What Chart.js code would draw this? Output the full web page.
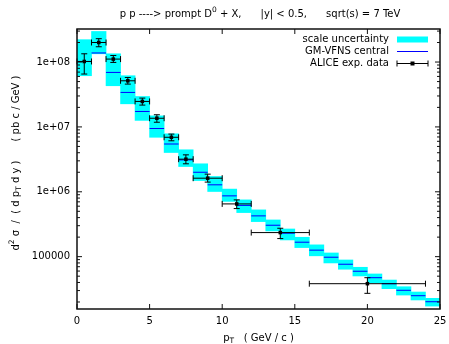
<!DOCTYPE html>
<html>
<head>
<meta charset="utf-8">
<script src="https://cdn.jsdelivr.net/npm/chart.js@4.4.0/dist/chart.umd.min.js"></script>
<style>
  html, body { margin: 0; padding: 0; background: #fff; }
  #wrap { width: 449px; height: 344px; }
</style>
</head>
<body>
<div id="wrap"><canvas id="myChart" width="449" height="344"></canvas></div>
<script>
// pT bins (GeV/c), theory band per bin
let binEdges = [0, 1, 2, 3, 4, 5, 6, 7, 8, 9, 10, 11, 12, 13, 14, 15, 16, 17, 18, 19, 20, 21, 22, 23, 24, 25];
let bandHigh = [2.21e8, 2.96e8, 1.34e8, 6.15e7, 2.94e7, 1.48e7, 7.83e6, 4.44e6, 2.70e6, 1.72e6, 1.10e6, 7.50e5, 5.26e5,
                3.68e5, 2.67e5, 1.99e5, 1.52e5, 1.14e5, 8.89e4, 6.86e4, 5.41e4, 4.36e4, 3.44e4, 2.85e4, 2.28e4];
let bandLow = [6.15e7, 1.34e8, 4.31e7, 2.27e7, 1.26e7, 6.92e6, 4.03e6, 2.45e6, 1.49e6, 1.01e6, 7.11e5, 4.78e5, 3.47e5,
               2.49e5, 1.81e5, 1.38e5, 1.03e5, 8.0e4, 6.40e4, 5.04e4, 3.97e4, 3.21e4, 2.56e4, 2.15e4, 1.73e4];
let central = [1.02e8, 1.38e8, 6.92e7, 3.40e7, 1.73e7, 9.44e6, 5.45e6, 3.10e6, 2.00e6, 1.28e6, 8.65e5, 6.17e5, 4.25e5,
               3.05e5, 2.30e5, 1.67e5, 1.26e5, 9.8e4, 7.64e4, 5.96e4, 4.74e4, 3.83e4, 3.03e4, 2.50e4, 2.02e4];

// ALICE data
let alicePt = [0.5, 1.5, 2.5, 3.5, 4.5, 5.5, 6.5, 7.5, 9, 11, 14, 20];
let alicePtLo = [0, 1, 2, 3, 4, 5, 6, 7, 8, 10, 12, 16];
let alicePtHi = [1, 2, 3, 4, 5, 6, 7, 8, 10, 12, 16, 24];
let aliceVal = [1.02e8, 2.0e8, 1.11e8, 5.14e7, 2.47e7, 1.36e7, 6.92e6, 3.18e6, 1.62e6, 6.5e5, 2.35e5, 3.83e4];
let aliceLo = [6.53e7, 1.72e8, 9.86e7, 4.57e7, 2.17e7, 1.18e7, 6.11e6, 2.70e6, 1.41e6, 5.51e5, 1.90e5, 2.72e4];
let aliceHi = [1.34e8, 2.29e8, 1.26e8, 5.78e7, 2.78e7, 1.54e7, 7.75e6, 3.71e6, 1.87e6, 7.50e5, 2.74e5, 4.74e4];

let xTicks = [0, 5, 10, 15, 20, 25];
let yTicks = [1e5, 1e6, 1e7, 1e8];

let FONT = '"DejaVu Sans", sans-serif';

let bandData = bandLow.map((lo, i) => ({ x: (binEdges[i] + binEdges[i + 1]) / 2, y: [lo, bandHigh[i]] }));
let centralData = [];
central.forEach((c, i) => {
    centralData.push({ x: binEdges[i], y: c }, { x: binEdges[i + 1], y: c }, { x: binEdges[i + 1], y: null });
});
let aliceData = alicePt.map((p, i) => ({ x: p, y: aliceVal[i] }));

// draw text pieces with sup/sub
function richText(ctx, parts, x, y, size) {
    let widths = parts.map(p => {
        ctx.font = ((p.sup || p.sub) ? size * 0.75 : size) + 'px ' + FONT;
        return ctx.measureText(p.t).width;
    });
    let total = widths.reduce((a, b) => a + b, 0);
    let cx = x - total / 2;
    ctx.textAlign = 'left';
    ctx.textBaseline = 'middle';
    parts.forEach((p, i) => {
        ctx.font = ((p.sup || p.sub) ? size * 0.75 : size) + 'px ' + FONT;
        let dy = p.sup ? -size * 0.4 : p.sub ? size * 0.3 : 0;
        ctx.fillText(p.t, cx, y + dy);
        cx += widths[i];
    });
}

let decor = {
    id: 'decor',
    afterDatasetsDraw(chart) {
        let { ctx, chartArea: a, scales: { x, y } } = chart;
        ctx.save();
        ctx.strokeStyle = '#000';
        ctx.lineWidth = 1;
        // error bars
        alicePt.forEach((p, i) => {
            let px = x.getPixelForValue(p), py = y.getPixelForValue(aliceVal[i]);
            let xl = x.getPixelForValue(alicePtLo[i]), xh = x.getPixelForValue(alicePtHi[i]);
            let yl = y.getPixelForValue(aliceLo[i]), yh = y.getPixelForValue(aliceHi[i]);
            ctx.beginPath();
            ctx.moveTo(xl, py); ctx.lineTo(xh, py);
            ctx.moveTo(xl, py - 3); ctx.lineTo(xl, py + 3);
            ctx.moveTo(xh, py - 3); ctx.lineTo(xh, py + 3);
            ctx.moveTo(px, yl); ctx.lineTo(px, yh);
            ctx.moveTo(px - 3, yl); ctx.lineTo(px + 3, yl);
            ctx.moveTo(px - 3, yh); ctx.lineTo(px + 3, yh);
            ctx.stroke();
        });
        // frame
        ctx.strokeStyle = '#111';
        ctx.lineWidth = 1.5;
        ctx.strokeRect(a.left, a.top, a.right - a.left, a.bottom - a.top);
        // ticks
        ctx.lineWidth = 1;
        ctx.beginPath();
        xTicks.forEach(v => {
            let px = x.getPixelForValue(v);
            ctx.moveTo(px, a.bottom); ctx.lineTo(px, a.bottom - 5);
            ctx.moveTo(px, a.top); ctx.lineTo(px, a.top + 5);
        });
        for (let e = 4; e <= 8; e++) {
            for (let m = 1; m <= 9; m++) {
                let v = m * Math.pow(10, e);
                if (v < y.min || v > y.max) continue;
                let py = y.getPixelForValue(v);
                let len = m === 1 ? 5 : 3;
                ctx.moveTo(a.left, py); ctx.lineTo(a.left + len, py);
                ctx.moveTo(a.right, py); ctx.lineTo(a.right - len, py);
            }
        }
        ctx.stroke();
        ctx.restore();
    },
    afterDraw(chart) {
        let { ctx, chartArea: a } = chart;
        ctx.save();
        ctx.fillStyle = '#000';
        // title
        richText(ctx, [{ t: 'p p ----> prompt D' }, { t: '0', sup: true },
                       { t: ' + X,      |y| < 0.5,      sqrt(s) = 7 TeV' }], 260, 14, 10);
        // x label
        richText(ctx, [{ t: 'p' }, { t: 'T', sub: true }, { t: '   ( GeV / c )' }], (a.left + a.right) / 2, 338, 10);
        // y label
        ctx.save();
        ctx.translate(16, 163);
        ctx.rotate(-Math.PI / 2);
        richText(ctx, [{ t: 'd' }, { t: '2', sup: true }, { t: ' σ  /  ( d p' }, { t: 'T', sub: true },
                       { t: ' d y )      ( pb c / GeV )' }], 0, 0, 10);
        ctx.restore();
        // legend
        ctx.font = '10px ' + FONT;
        ctx.textAlign = 'right';
        ctx.textBaseline = 'middle';
        let lx = 389, s0 = 397, s1 = 428;
        ctx.fillText('scale uncertainty', lx, 39.5);
        ctx.fillText('GM-VFNS central', lx, 51.5);
        ctx.fillText('ALICE exp. data', lx, 63.5);
        ctx.fillStyle = '#00ffff';
        ctx.fillRect(s0, 36.5, s1 - s0, 6);
        ctx.strokeStyle = '#0000ff';
        ctx.lineWidth = 1;
        ctx.beginPath(); ctx.moveTo(s0, 51.5); ctx.lineTo(s1, 51.5); ctx.stroke();
        ctx.strokeStyle = '#000';
        ctx.beginPath();
        ctx.moveTo(s0, 63.5); ctx.lineTo(s1, 63.5);
        ctx.moveTo(s0, 60.5); ctx.lineTo(s0, 66.5);
        ctx.moveTo(s1, 60.5); ctx.lineTo(s1, 66.5);
        ctx.stroke();
        ctx.fillStyle = '#000';
        ctx.fillRect((s0 + s1) / 2 - 2, 61.5, 4, 4);
        ctx.restore();
    }
};

let ctx = document.getElementById('myChart').getContext('2d');

let chart = new Chart(ctx, {
    type: 'bar',
    data: {
        datasets: [{
            type: 'line',
            label: 'ALICE exp. data',
            data: aliceData,
            showLine: false,
            pointStyle: 'rect',
            pointRadius: 2.5,
            pointBackgroundColor: '#000',
            pointBorderWidth: 0,
            order: 1
        }, {
            type: 'line',
            label: 'GM-VFNS central',
            data: centralData,
            borderColor: '#0000ff',
            borderWidth: 1,
            pointRadius: 0,
            spanGaps: false,
            order: 2
        }, {
            label: 'scale uncertainty',
            data: bandData,
            backgroundColor: '#00ffff',
            borderWidth: 0,
            barPercentage: 1,
            categoryPercentage: 1,
            grouped: false,
            order: 3
        }]
    },
    options: {
        responsive: false,
        animation: false,
        layout: { padding: { top: 29, right: 9, left: 0, bottom: 0 } },
        plugins: {
            legend: { display: false },
            tooltip: { enabled: false }
        },
        scales: {
            x: {
                type: 'linear',
                min: 0,
                max: 25,
                offset: false,
                afterFit: s => { s.height = 35; s.paddingLeft = 0; s.paddingRight = 0; },
                afterBuildTicks: s => { s.ticks = xTicks.map(v => ({ value: v })); },
                grid: { display: false, drawTicks: false },
                border: { display: false },
                ticks: { color: '#000', padding: 6, maxRotation: 0, font: { family: FONT, size: 10 } }
            },
            y: {
                type: 'logarithmic',
                min: 1.56e4,
                max: 3.23e8,
                afterFit: s => { s.width = 77; s.paddingTop = 0; s.paddingBottom = 0; },
                afterBuildTicks: s => { s.ticks = yTicks.map(v => ({ value: v })); },
                grid: { display: false, drawTicks: false },
                border: { display: false },
                ticks: {
                    color: '#000',
                    padding: 7,
                    font: { family: FONT, size: 10 },
                    callback: v => v < 1e6 ? String(v) : '1e+0' + Math.round(Math.log10(v))
                }
            }
        }
    },
    plugins: [decor]
});
</script>
</body>
</html>
